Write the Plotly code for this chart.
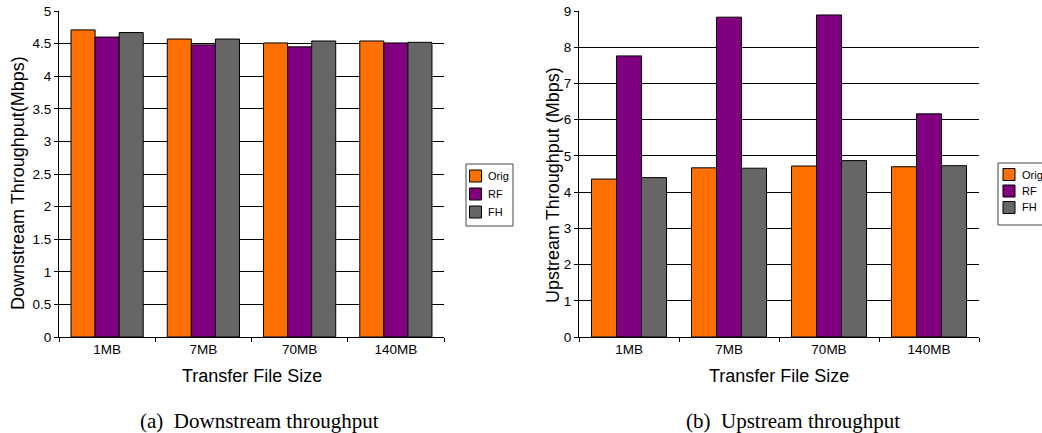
import plotly.graph_objects as go

W, H = 1042, 433

categories = ["1MB", "7MB", "70MB", "140MB"]
series_names = ["Orig", "RF", "FH"]
series_colors = ["#FF7000", "#800080", "#666666"]

down_orig = [4.71, 4.57, 4.51, 4.54]
down_rf = [4.60, 4.48, 4.45, 4.51]
down_fh = [4.67, 4.57, 4.54, 4.52]

up_orig = [4.36, 4.67, 4.72, 4.70]
up_rf = [7.76, 8.83, 8.89, 6.16]
up_fh = [4.40, 4.66, 4.87, 4.73]

down_ticks = [0, 0.5, 1, 1.5, 2, 2.5, 3, 3.5, 4, 4.5, 5]
up_ticks = [0, 1, 2, 3, 4, 5, 6, 7, 8, 9]


def px_x(x):
    return x / W


def px_y(y):
    return 1 - y / H


SANS = "Liberation Sans, Arial, Helvetica, sans-serif"
SERIF = "Liberation Serif, Times New Roman, serif"

fig = go.Figure()

for name, color, vals in zip(series_names, series_colors, [down_orig, down_rf, down_fh]):
    fig.add_trace(go.Bar(x=categories, y=vals, name=name, xaxis="x", yaxis="y",
                         marker=dict(color=color, line=dict(color="black", width=1)),
                         showlegend=False))
for name, color, vals in zip(series_names, series_colors, [up_orig, up_rf, up_fh]):
    fig.add_trace(go.Bar(x=categories, y=vals, name=name, xaxis="x2", yaxis="y2",
                         marker=dict(color=color, line=dict(color="black", width=1)),
                         showlegend=False))

xcommon = dict(type="category", showline=True, linecolor="black", linewidth=1,
               ticks="outside", tickson="boundaries", ticklen=4, tickcolor="black",
               showgrid=False, tickfont=dict(family=SANS, size=13.5, color="black"),
               fixedrange=True, automargin=False)
ycommon = dict(showline=True, linecolor="black", linewidth=1, ticks="outside",
               ticklen=4, tickcolor="black", showgrid=True, gridcolor="black",
               gridwidth=1, zeroline=False,
               tickfont=dict(family=SANS, size=13.5, color="black"), fixedrange=True,
               automargin=False)

fig.update_layout(
    width=W, height=H,
    margin=dict(l=0, r=0, t=0, b=0, pad=0, autoexpand=False),
    paper_bgcolor="white", plot_bgcolor="white",
    barmode="group", bargap=0.25, bargroupgap=0,
    xaxis=dict(domain=[px_x(59), px_x(444)], anchor="y", **xcommon),
    yaxis=dict(domain=[px_y(337), px_y(11)], anchor="x", range=[0, 5],
               tickvals=down_ticks, ticktext=[f"{v:g}" for v in down_ticks], **ycommon),
    xaxis2=dict(domain=[px_x(579), px_x(979)], anchor="y2", **xcommon),
    yaxis2=dict(domain=[px_y(337), px_y(11)], anchor="x2", range=[0, 9],
                tickvals=up_ticks, ticktext=[f"{v:g}" for v in up_ticks], **ycommon),
    showlegend=False,
)

annotations = [
    dict(text="Downstream Throughput(Mbps)", x=px_x(18), y=px_y(183), textangle=-90,
         font=dict(family=SANS, size=18, color="black")),
    dict(text="Upstream Throughput (Mbps)", x=px_x(553), y=px_y(185), textangle=-90,
         font=dict(family=SANS, size=18, color="black")),
    dict(text="Transfer File Size", x=px_x(252), y=px_y(376),
         font=dict(family=SANS, size=18, color="black")),
    dict(text="Transfer File Size", x=px_x(779), y=px_y(376),
         font=dict(family=SANS, size=18, color="black")),
    dict(text="(a)  Downstream throughput", x=px_x(259), y=px_y(421),
         font=dict(family=SERIF, size=21, color="black")),
    dict(text="(b)  Upstream throughput", x=px_x(793), y=px_y(421),
         font=dict(family=SERIF, size=21, color="black")),
]
for a in annotations:
    a.update(xref="paper", yref="paper", xanchor="center", yanchor="middle",
             showarrow=False)

# Legend boxes (one per panel)
shapes = []
legend_specs = [
    # box left, box top, box right, box bottom, swatch left, text left, item centres
    (466, 164, 513, 226, 469.5, 485.5, [176, 194, 212]),
    (998, 163, 1046, 225, 1003, 1019.5, [174.5, 191, 207.5]),
]
for bl, bt, br, bb, sl, tl, centres in legend_specs:
    shapes.append(dict(type="rect", xref="paper", yref="paper",
                       x0=px_x(bl), x1=px_x(br), y0=px_y(bb), y1=px_y(bt),
                       line=dict(color="#444444", width=1), fillcolor="white",
                       layer="above"))
    for name, color, cy in zip(series_names, series_colors, centres):
        shapes.append(dict(type="rect", xref="paper", yref="paper",
                           x0=px_x(sl), x1=px_x(sl + 12),
                           y0=px_y(cy + 6), y1=px_y(cy - 6),
                           line=dict(color="black", width=1), fillcolor=color,
                           layer="above"))
        annotations.append(dict(text=name, xref="paper", yref="paper",
                                x=px_x(tl), y=px_y(cy), xanchor="left",
                                yanchor="middle", showarrow=False,
                                font=dict(family=SANS, size=11, color="black")))

fig.update_layout(annotations=annotations, shapes=shapes)

fig.write_html(
    "out.html",
    config={"displayModeBar": False},
    post_script="document.body.style.margin='0';document.body.style.overflow='hidden';",
)
